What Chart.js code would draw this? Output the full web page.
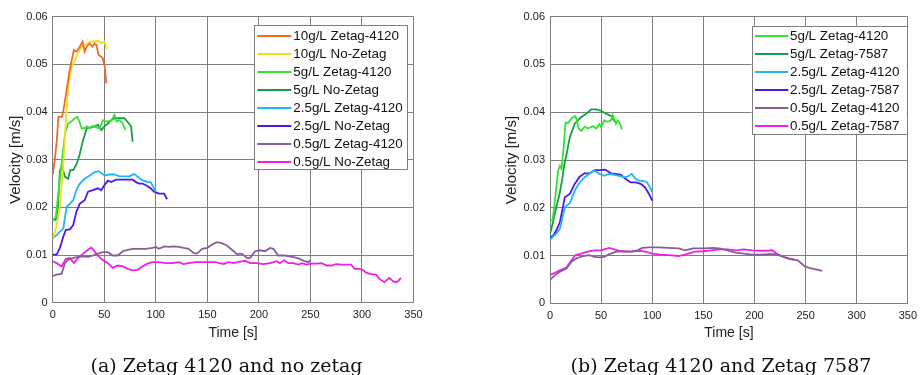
<!DOCTYPE html>
<html>
<head>
<meta charset="utf-8">
<script src="https://cdn.jsdelivr.net/npm/chart.js@4/dist/chart.umd.min.js"></script>
<style>
  html, body { margin: 0; padding: 0; background: #ffffff; }
  #wrap { position: relative; width: 923px; height: 375px; overflow: hidden; background: #fff; }
  canvas { position: absolute; top: 0; }
  .cap { position: absolute; top: 354px; font-family: "DejaVu Serif", serif; font-size: 19px; line-height: 22px; color: #111; text-align: center; white-space: nowrap; }
</style>
</head>
<body>
<div id="wrap">
  <canvas id="c1" width="461" height="375" style="left:0px;width:461px;height:375px"></canvas>
  <canvas id="c2" width="462" height="375" style="left:461px;width:462px;height:375px"></canvas>
  <div class="cap" style="left:0px;width:453px">(a) Zetag 4120 and no zetag</div>
  <div class="cap" style="left:521px;width:400px">(b) Zetag 4120 and Zetag 7587</div>
</div>
<script>
// ---------- axis ticks ----------
const xTickLabels = ['0', '50', '100', '150', '200', '250', '300', '350'];
const yTickLabels = ['0', '0.01', '0.02', '0.03', '0.04', '0.05', '0.06'];

// ---------- panel (a) series: [time s, velocity m/s] ----------
const a10gZetag4120 = [[0,0.0268],[2,0.030],[4,0.034],[5.5,0.039],[9,0.039],[10.5,0.0404],[13.5,0.0446],[16.5,0.0488],[20.5,0.053],[23,0.0527],[25.5,0.0534],[29,0.0548],[31,0.0527],[33,0.0537],[36,0.0544],[38.5,0.0537],[40.5,0.0544],[42.5,0.054],[44.5,0.052],[47,0.0516],[48.5,0.0513],[50.5,0.0495],[52,0.046]];
const a10gNoZetag = [[0,0.0132],[3.5,0.016],[7,0.0201],[10,0.028],[12,0.0355],[15,0.0453],[18.3,0.0495],[21.5,0.0509],[24.7,0.0523],[28,0.0537],[31,0.054],[34,0.0544],[37.5,0.0548],[40.7,0.0548],[44,0.055],[47,0.0544],[50.3,0.0548],[52.6,0.0531]];
const a5gZetag4120 = [[0,0.0172],[3,0.018],[6,0.024],[9,0.030],[12,0.0355],[15,0.0376],[18,0.038],[21.5,0.0387],[23.7,0.039],[26,0.038],[28,0.0366],[31,0.0366],[33,0.037],[36,0.0366],[39,0.0371],[42,0.0368],[45.5,0.0366],[48.7,0.0383],[52,0.038],[56.7,0.0382],[60,0.0394],[62,0.038],[64.7,0.0383],[68,0.0376],[70.5,0.0362]];
const a5gNoZetag = [[0,0.0174],[3,0.0174],[5,0.0198],[7,0.0278],[9,0.0285],[12,0.0264],[15,0.026],[17,0.0278],[20,0.0278],[23,0.029],[26,0.031],[29.5,0.0341],[33,0.0366],[37.5,0.0368],[40.7,0.037],[44,0.0373],[47,0.0362],[50.3,0.037],[53.5,0.0376],[56.7,0.0383],[60,0.0387],[64.7,0.0387],[69.5,0.0387],[74,0.0376],[76,0.037],[77.6,0.0338]];
const a25gZetag4120 = [[0,0.0135],[3.8,0.0142],[7,0.0149],[10.3,0.0156],[13.5,0.0201],[16.7,0.0208],[19.9,0.0215],[23,0.0236],[26.3,0.025],[31,0.026],[36,0.0267],[40.7,0.0274],[44.9,0.0276],[48.7,0.0269],[52,0.0267],[55,0.0269],[60,0.0269],[64.7,0.0265],[69.5,0.0265],[74.4,0.0265],[77.6,0.0269],[80,0.0269],[82.4,0.0264],[87,0.0257],[92,0.0253],[95,0.0253],[98.4,0.024],[100,0.0233]];
const a25gNoZetag = [[0,0.0101],[3.8,0.0101],[7,0.0115],[10.3,0.0139],[12.8,0.0153],[16.7,0.0154],[19.9,0.0163],[23,0.0191],[26.3,0.0208],[31,0.0215],[34.3,0.0233],[39,0.0236],[44,0.024],[47,0.0236],[50.3,0.0247],[53.5,0.0256],[56.7,0.0253],[61.5,0.0258],[66.3,0.0258],[71,0.0258],[77.6,0.0258],[80.8,0.0253],[84,0.025],[87,0.025],[90,0.0247],[95,0.024],[98.4,0.0233],[103,0.0229],[108,0.0229],[111,0.0217]];
const a05gZetag4120 = [[0,0.0056],[3.8,0.0059],[8.7,0.0061],[11.9,0.0083],[15,0.009],[20,0.0094],[24.7,0.0096],[29.5,0.0097],[34.3,0.0096],[39,0.0099],[44,0.0103],[48.7,0.0106],[53.5,0.0106],[58.3,0.0099],[63,0.0099],[68,0.0108],[72.8,0.0111],[77.6,0.0113],[84,0.0113],[90,0.0113],[96.8,0.0115],[100,0.0117],[103,0.0113],[108,0.0118],[113,0.0117],[117.6,0.0118],[122.4,0.0117],[127,0.0115],[132,0.0113],[136.8,0.0104],[140,0.0103],[145,0.0113],[150,0.0115],[154.5,0.0122],[159.3,0.0127],[164,0.0125],[169,0.012],[173.8,0.0111],[178.6,0.0102],[183.4,0.0103],[188.3,0.0094],[191.5,0.0094],[196.3,0.0108],[201,0.011],[206,0.0108],[210.8,0.0115],[214,0.0113],[218.8,0.0099],[225,0.0099],[230,0.0097],[234.9,0.0095],[239.7,0.0092],[244.5,0.0087],[247.7,0.0085],[250.3,0.0089]];
const a05gNoZetag = [[0,0.0087],[3.8,0.0083],[8.7,0.0076],[12.8,0.0092],[16.7,0.0094],[20.5,0.0083],[24.7,0.0094],[29.5,0.0103],[34.3,0.0111],[37.5,0.0116],[42.3,0.0103],[47,0.0092],[53.5,0.0083],[58.3,0.0073],[63,0.0078],[68,0.0076],[72.8,0.0071],[77.6,0.0068],[82.4,0.0069],[87,0.0076],[92,0.0082],[96.8,0.0085],[103,0.0085],[109.6,0.0083],[116,0.0083],[122.4,0.0085],[127,0.0081],[132,0.0083],[138.4,0.0085],[148,0.0085],[157.7,0.0085],[165.8,0.0081],[170.6,0.0085],[175.4,0.0083],[181.8,0.0086],[186.7,0.0088],[191.5,0.0083],[198,0.0083],[204.3,0.0081],[210.8,0.0083],[217.2,0.0087],[220.4,0.0083],[224.6,0.0089],[228.6,0.0083],[233.4,0.0083],[238.2,0.008],[242,0.0083],[246,0.008],[251,0.0082],[256,0.0082],[260.9,0.0083],[265.7,0.0078],[270.3,0.0078],[275,0.0081],[280,0.008],[289.5,0.008],[292.8,0.0071],[297.6,0.0071],[300.8,0.0069],[304,0.0063],[308.8,0.006],[313.7,0.0059],[317,0.005],[321.7,0.0043],[326.5,0.0052],[330.7,0.0044],[334.5,0.0044],[337.8,0.0052]];

// ---------- panel (b) series ----------
const b5gZetag4120 = [[0,0.0172],[2.6,0.0174],[4.8,0.0215],[8,0.0278],[9.7,0.0288],[11.3,0.0281],[13.5,0.033],[15.2,0.0378],[17.7,0.0378],[21,0.0387],[24.2,0.0392],[25.8,0.0387],[28,0.0366],[30.6,0.0361],[33.9,0.037],[37,0.0366],[42,0.0371],[45,0.0366],[48.4,0.0375],[50,0.0368],[53,0.0383],[56.5,0.038],[59.7,0.0383],[61.3,0.0394],[64.5,0.0376],[66,0.0383],[68.4,0.0376],[70.3,0.0364]];
const b5gZetag7587 = [[0,0.0145],[3,0.017],[6,0.020],[9,0.0225],[12,0.026],[14,0.029],[16,0.031],[19.4,0.0348],[24.2,0.0376],[30.6,0.039],[35.5,0.0397],[40.3,0.0406],[45,0.0406],[50,0.0403],[54.8,0.0397],[59.7,0.0392],[62.9,0.0382],[64.5,0.0378]];
const b25gZetag4120 = [[0,0.0133],[3.2,0.014],[6.5,0.0147],[9.7,0.0156],[14.5,0.0201],[19.4,0.021],[24.2,0.0236],[29,0.0253],[33.9,0.0264],[38.7,0.0271],[43.5,0.0278],[48.4,0.0271],[53,0.0267],[58,0.0271],[63,0.0269],[67.7,0.0267],[72.6,0.0264],[75.8,0.0265],[80,0.0271],[83.9,0.026],[87,0.0257],[92,0.0256],[95,0.0253],[98.4,0.024],[100,0.0233]];
const b25gZetag7587 = [[0,0.0138],[3.2,0.0142],[6.5,0.0154],[9.7,0.017],[14.5,0.0222],[19.4,0.0229],[24.2,0.025],[29,0.0265],[33.9,0.0272],[38.7,0.0272],[43.5,0.0279],[48.4,0.0279],[54,0.028],[59.7,0.0272],[64.5,0.0271],[69.4,0.0269],[74,0.026],[79,0.0253],[83.9,0.0253],[88.7,0.025],[92.9,0.0243],[96.8,0.0229],[100,0.0215]];
const b05gZetag4120 = [[0,0.0049],[4.8,0.0059],[9.7,0.0066],[16.1,0.0073],[21,0.0087],[25.8,0.0094],[32.3,0.0099],[38.7,0.0101],[43.5,0.0097],[48.4,0.0096],[53,0.0097],[58,0.0103],[64.5,0.0108],[71,0.0109],[79,0.0108],[85.5,0.0111],[90.3,0.0116],[96.8,0.0117],[106.5,0.0117],[116,0.0116],[125.8,0.0115],[132,0.0111],[140,0.0115],[151,0.0115],[159,0.0116],[165.7,0.0115],[173.6,0.0111],[181.6,0.0106],[189.6,0.0104],[197.6,0.0102],[205.6,0.0102],[213.6,0.0103],[221.6,0.0103],[228,0.0097],[236,0.0092],[242.3,0.009],[248.7,0.0078],[253.5,0.0074],[259.9,0.0071],[266.3,0.0068]];
const b05gZetag7587 = [[0,0.0059],[4.8,0.0064],[9.7,0.0069],[16.1,0.0075],[21,0.009],[25,0.0101],[30.6,0.0104],[37,0.0108],[43.5,0.0111],[50,0.0111],[53,0.0113],[58,0.0116],[63,0.0113],[67.7,0.011],[74,0.0108],[80.6,0.0108],[87,0.011],[93.5,0.0108],[100,0.0104],[108,0.0102],[116,0.0101],[125.8,0.0099],[133.7,0.0103],[141.7,0.0108],[149.7,0.0109],[157.7,0.0111],[165.7,0.0113],[173.6,0.0113],[181.6,0.0111],[189.6,0.0113],[197.6,0.0111],[205.6,0.011],[212,0.011],[217.7,0.0111],[221.6,0.0104],[226.4,0.0099],[232.8,0.0094],[239,0.0092]];

// ---------- labels & colours ----------
const labelsA = ['10g/L Zetag-4120', '10g/L No-Zetag', '5g/L Zetag-4120', '5g/L No-Zetag', '2.5g/L Zetag-4120', '2.5g/L No-Zetag', '0.5g/L Zetag-4120', '0.5g/L No-Zetag'];
const labelsB = ['5g/L Zetag-4120', '5g/L Zetag-7587', '2.5g/L Zetag-4120', '2.5g/L Zetag-7587', '0.5g/L Zetag-4120', '0.5g/L Zetag-7587'];
const colorsA = ['#f26b21', '#f2df1c', '#35e232', '#16a045', '#1fb6f2', '#4a17f0', '#8a5c99', '#f01fe6'];
const colorsB = ['#35e232', '#16a045', '#1fb6f2', '#4a17f0', '#8a5c99', '#f01fe6'];
const seriesA = [a10gZetag4120, a10gNoZetag, a5gZetag4120, a5gNoZetag, a25gZetag4120, a25gNoZetag, a05gZetag4120, a05gNoZetag];
const seriesB = [b5gZetag4120, b5gZetag7587, b25gZetag4120, b25gZetag7587, b05gZetag4120, b05gZetag7587];

const boxLegend = {
  id: 'boxLegend',
  afterDatasetsDraw(chart, args, o) {
    const ctx = chart.ctx;
    ctx.save();
    ctx.fillStyle = '#ffffff';
    ctx.fillRect(o.x, o.y, o.w, o.h);
    ctx.strokeStyle = '#7f7f7f';
    ctx.lineWidth = 1;
    ctx.strokeRect(Math.round(o.x) + 0.5, Math.round(o.y) + 0.5, Math.round(o.w), Math.round(o.h));
    ctx.font = '13.4px "Liberation Sans", Arial, sans-serif';
    ctx.textBaseline = 'middle';
    ctx.textAlign = 'left';
    chart.data.datasets.forEach((ds, i) => {
      const yy = o.row0 + i * o.rowH;
      ctx.strokeStyle = ds.borderColor;
      ctx.lineWidth = 2;
      ctx.beginPath();
      ctx.moveTo(o.lineX0, yy);
      ctx.lineTo(o.lineX1, yy);
      ctx.stroke();
      ctx.fillStyle = '#111';
      ctx.fillText(ds.label, o.textX, yy + 0.5);
    });
    ctx.restore();
  }
};

function makeChart(id, labels, colors, series, geo) {
  const datasets = series.map((s, i) => ({
    label: labels[i],
    data: s.map(p => ({ x: p[0], y: p[1] })),
    borderColor: colors[i],
    backgroundColor: colors[i],
    borderWidth: 1.8,
    pointRadius: 0,
    tension: 0,
    fill: false
  }));
  return new Chart(document.getElementById(id), {
    type: 'line',
    data: { datasets },
    plugins: [boxLegend],
    options: {
      responsive: false,
      animation: false,
      devicePixelRatio: 1,
      layout: { padding: geo.padding },
      plugins: {
        legend: { display: false },
        tooltip: { enabled: false },
        boxLegend: geo.legend
      },
      scales: {
        x: {
          type: 'linear', min: 0, max: 350,
          afterFit: s => { s.height = geo.xH; },
          afterBuildTicks: s => { s.ticks = xTickLabels.map(v => ({ value: Number(v) })); },
          ticks: {
            stepSize: 50, autoSkip: false, maxRotation: 0, padding: 6, color: '#222',
            font: { family: '"Liberation Sans Narrow", "Liberation Sans", Arial, sans-serif', size: 11 },
            callback: (v, i) => xTickLabels[i]
          },
          grid: { color: '#7f7f7f', lineWidth: 1, drawTicks: false },
          border: { color: '#7f7f7f', width: 1 },
          title: { display: true, text: 'Time [s]', color: '#222', padding: 0,
                   font: { family: '"Liberation Sans", Arial, sans-serif', size: 14 } }
        },
        y: {
          type: 'linear', min: 0, max: 0.06,
          afterFit: s => { s.width = geo.yW; },
          afterBuildTicks: s => { s.ticks = yTickLabels.map(v => ({ value: Number(v) })); },
          ticks: {
            stepSize: 0.01, autoSkip: false, padding: 5, color: '#222',
            font: { family: '"Liberation Sans", Arial, sans-serif', size: 11 },
            callback: (v, i) => yTickLabels[i]
          },
          grid: { color: '#7f7f7f', lineWidth: 1, drawTicks: false },
          border: { color: '#7f7f7f', width: 1 },
          title: { display: true, text: 'Velocity [m/s]', color: '#222', padding: 0,
                   font: { family: '"Liberation Sans", Arial, sans-serif', size: 15 } }
        }
      }
    }
  });
}

makeChart('c1', labelsA, colorsA, seriesA, {
  padding: { left: 7, right: 47.5, top: 16.7, bottom: 33.6 },
  yW: 45.7, xH: 38.7,
  legend: { x: 254.3, y: 25, w: 153, h: 144.3, row0: 36, rowH: 18, lineX0: 257.3, lineX1: 291.3, textX: 293.3 }
});
makeChart('c2', labelsB, colorsB, seriesB, {
  padding: { left: 42, right: 10.3, top: 16.7, bottom: 33.6 },
  yW: 47, xH: 38.1,
  legend: { x: 290.7, y: 25.7, w: 155, h: 108, row0: 36, rowH: 18, lineX0: 294, lineX1: 327.3, textX: 329 }
});
</script>
</body>
</html>
